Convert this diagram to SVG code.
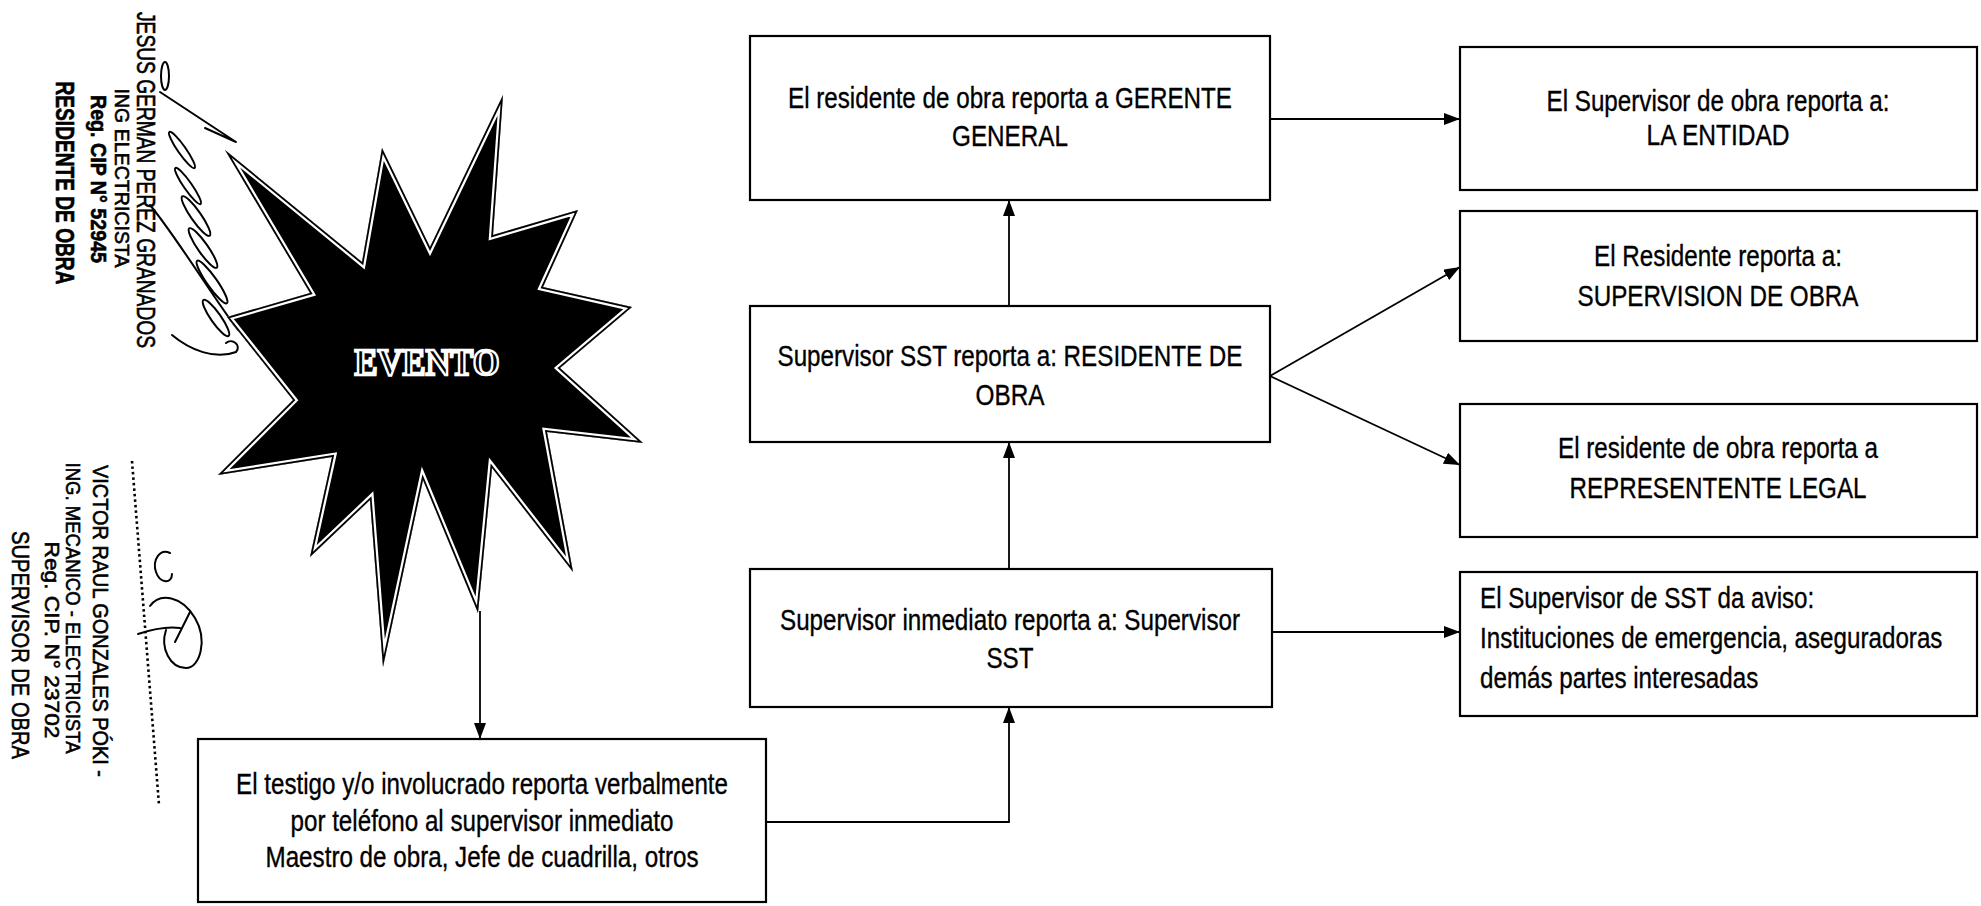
<svg xmlns="http://www.w3.org/2000/svg" width="1981" height="906" viewBox="0 0 1981 906">
<defs>
<style>
.box{fill:#fff;stroke:#000;stroke-width:2.2}
.t{font-family:"Liberation Sans",Arial,sans-serif;font-size:29.5px;fill:#000;stroke:#000;stroke-width:0.35}
.c{text-anchor:middle}
.conn{stroke:#000;stroke-width:1.8;fill:none}
.st{font-family:"Liberation Sans",Arial,sans-serif;fill:#000;text-anchor:middle;stroke:#000;stroke-width:0.6}
.b{font-weight:bold}
.sig{fill:none;stroke:#000;stroke-width:2;stroke-linecap:round;stroke-linejoin:round}
</style>
<marker id="ah" viewBox="0 0 16 12" refX="16" refY="6" markerWidth="16" markerHeight="12" markerUnits="userSpaceOnUse" orient="auto"><path d="M0,0 L16,6 L0,12 z" fill="#000"/></marker>
<polygon id="starshape" points="503,95 493,235 578,210 543,287 632,307 560,368 643,443 547,432 573,572 492,468 478,613 423,480 383,667 370,500 310,557 332,457 218,475 293,400 227,317 310,293 225,150 362,262 382,148 430,247"/>
<clipPath id="starclip"><use href="#starshape"/></clipPath>
</defs>
<rect width="1981" height="906" fill="#fff"/>

<g id="stamp-residente">
<text class="st" transform="translate(137,180) rotate(90)" font-size="25" textLength="336" lengthAdjust="spacingAndGlyphs">JESUS GERMAN PEREZ GRANADOS</text>
<text class="st" transform="translate(115,178) rotate(90)" font-size="21" textLength="179" lengthAdjust="spacingAndGlyphs">ING ELECTRICISTA</text>
<text class="st b" transform="translate(91,179) rotate(90)" font-size="22" textLength="168" lengthAdjust="spacingAndGlyphs">Reg. CIP N° 52945</text>
<text class="st b" transform="translate(56,183) rotate(90)" font-size="25" textLength="203" lengthAdjust="spacingAndGlyphs">RESIDENTE DE OBRA</text>
<ellipse class="sig" cx="165" cy="76" rx="4" ry="14"/>
<path class="sig" d="M160,92 L236,142 L205,128"/>
<g class="sig">
<ellipse cx="182" cy="150" rx="4" ry="22" transform="rotate(-35 182 150)"/>
<ellipse cx="188" cy="186" rx="4" ry="22" transform="rotate(-35 188 186)"/>
<ellipse cx="196" cy="216" rx="5" ry="24" transform="rotate(-35 196 216)"/>
<ellipse cx="203" cy="248" rx="5" ry="24" transform="rotate(-35 203 248)"/>
<ellipse cx="212" cy="282" rx="5" ry="26" transform="rotate(-35 212 282)"/>
<ellipse cx="216" cy="318" rx="5" ry="22" transform="rotate(-35 216 318)"/>
</g>
<path class="sig" d="M150,205 C175,235 215,300 238,330"/>
<path class="sig" d="M172,335 C190,350 215,360 236,352 C242,345 232,338 226,343"/>
</g>

<g id="stamp-supervisor">
<text class="st" transform="translate(93,621) rotate(90)" font-size="22" textLength="312" lengthAdjust="spacingAndGlyphs">VICTOR RAUL GONZALES PÓKI -</text>
<text class="st" transform="translate(66,608) rotate(90)" font-size="21" textLength="291" lengthAdjust="spacingAndGlyphs">ING. MECANICO - ELECTRICISTA</text>
<text class="st" transform="translate(45,640) rotate(90)" font-size="21" textLength="197" lengthAdjust="spacingAndGlyphs">Reg. CIP. N° 23702</text>
<text class="st" transform="translate(12,645) rotate(90)" font-size="24" textLength="228" lengthAdjust="spacingAndGlyphs">SUPERVISOR DE OBRA</text>
<path d="M132,461 L159,805" stroke="#000" stroke-width="2.6" stroke-dasharray="2.5 3"/>
<path class="sig" d="M170,553 C160,548 152,560 156,572 C160,584 172,584 172,574"/>
<path class="sig" d="M150,606 C160,592 182,596 195,618 C208,640 200,668 186,668 C170,668 160,648 166,630"/>
<path class="sig" d="M138,634 C150,630 165,626 180,628"/>
<path class="sig" d="M175,642 L190,612"/>
</g>

<g id="evento">
<use href="#starshape" fill="#000"/>
<g clip-path="url(#starclip)">
<use href="#starshape" fill="none" stroke="#fff" stroke-width="8" stroke-linejoin="miter" stroke-miterlimit="12"/>
<use href="#starshape" fill="none" stroke="#000" stroke-width="3.5" stroke-linejoin="miter" stroke-miterlimit="12"/>
</g>
<text x="427" y="375" text-anchor="middle" font-family="Liberation Serif, serif" font-weight="bold" font-size="38" textLength="145" lengthAdjust="spacingAndGlyphs" fill="#000" stroke="#fff" stroke-width="2.5">EVENTO</text>
</g>

<g id="connectors">
<path class="conn" d="M480,611 V739" marker-end="url(#ah)"/>
<path class="conn" d="M766,822 H1009 V707" marker-end="url(#ah)"/>
<path class="conn" d="M1009,569 V442" marker-end="url(#ah)"/>
<path class="conn" d="M1009,306 V200" marker-end="url(#ah)"/>
<path class="conn" d="M1270,119 H1460" marker-end="url(#ah)"/>
<path class="conn" d="M1270,376 L1460,267" marker-end="url(#ah)"/>
<path class="conn" d="M1270,376 L1460,465" marker-end="url(#ah)"/>
<path class="conn" d="M1272,632 H1460" marker-end="url(#ah)"/>
</g>

<g id="gerente">
<rect class="box" x="750" y="36" width="520" height="164"/>
<text class="t c" x="1010" y="108" textLength="444" lengthAdjust="spacingAndGlyphs">El residente de obra reporta a GERENTE</text>
<text class="t c" x="1010" y="146" textLength="116" lengthAdjust="spacingAndGlyphs">GENERAL</text>
</g>

<g id="supervisor-sst">
<rect class="box" x="750" y="306" width="520" height="136"/>
<text class="t c" x="1010" y="366" textLength="465" lengthAdjust="spacingAndGlyphs">Supervisor SST reporta a: RESIDENTE DE</text>
<text class="t c" x="1010" y="405" textLength="69" lengthAdjust="spacingAndGlyphs">OBRA</text>
</g>

<g id="supervisor-inmediato">
<rect class="box" x="750" y="569" width="522" height="138"/>
<text class="t c" x="1010" y="630" textLength="460" lengthAdjust="spacingAndGlyphs">Supervisor inmediato reporta a: Supervisor</text>
<text class="t c" x="1010" y="668" textLength="47" lengthAdjust="spacingAndGlyphs">SST</text>
</g>

<g id="testigo">
<rect class="box" x="198" y="739" width="568" height="163"/>
<text class="t c" x="482" y="794" textLength="492" lengthAdjust="spacingAndGlyphs">El testigo y/o involucrado reporta verbalmente</text>
<text class="t c" x="482" y="831" textLength="383" lengthAdjust="spacingAndGlyphs">por teléfono al supervisor inmediato</text>
<text class="t c" x="482" y="867" textLength="433" lengthAdjust="spacingAndGlyphs">Maestro de obra, Jefe de cuadrilla, otros</text>
</g>

<g id="entidad">
<rect class="box" x="1460" y="47" width="517" height="143"/>
<text class="t c" x="1718" y="111" textLength="343" lengthAdjust="spacingAndGlyphs">El Supervisor de obra reporta a:</text>
<text class="t c" x="1718" y="145" textLength="143" lengthAdjust="spacingAndGlyphs">LA ENTIDAD</text>
</g>

<g id="supervision-obra">
<rect class="box" x="1460" y="211" width="517" height="130"/>
<text class="t c" x="1718" y="266" textLength="248" lengthAdjust="spacingAndGlyphs">El Residente reporta a:</text>
<text class="t c" x="1718" y="306" textLength="281" lengthAdjust="spacingAndGlyphs">SUPERVISION DE OBRA</text>
</g>

<g id="representante-legal">
<rect class="box" x="1460" y="404" width="517" height="133"/>
<text class="t c" x="1718" y="458" textLength="320" lengthAdjust="spacingAndGlyphs">El residente de obra reporta a</text>
<text class="t c" x="1718" y="498" textLength="297" lengthAdjust="spacingAndGlyphs">REPRESENTENTE LEGAL</text>
</g>

<g id="aviso">
<rect class="box" x="1460" y="572" width="517" height="144"/>
<g transform="translate(1480,0) scale(0.82,1)">
<text class="t" x="0" y="608">El Supervisor de SST da aviso:</text>
<text class="t" x="0" y="648">Instituciones de emergencia, aseguradoras</text>
<text class="t" x="0" y="688">demás partes interesadas</text>
</g>
</g>
</svg>
